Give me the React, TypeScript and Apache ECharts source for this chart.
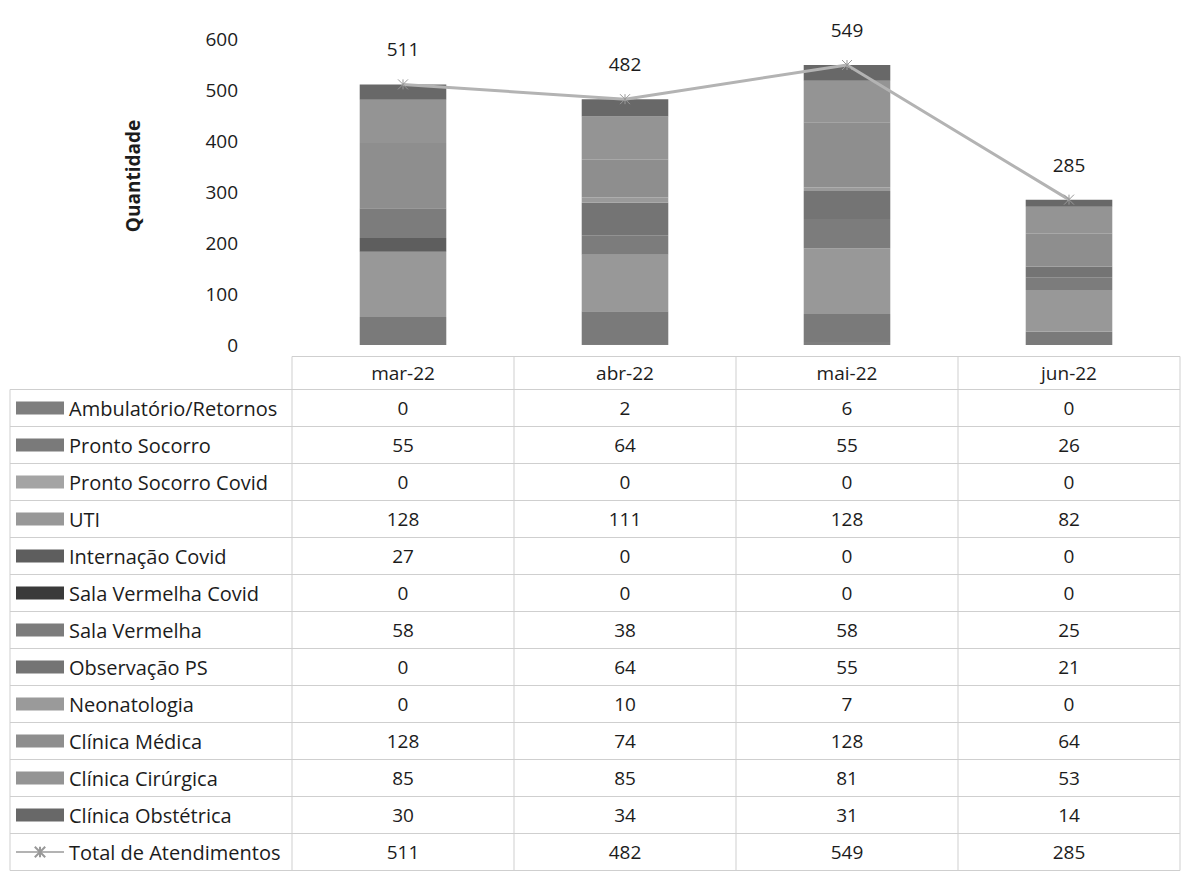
import React, { useEffect, useRef } from "react";
import * as echarts from "echarts";

const categories = ["mar-22", "abr-22", "mai-22", "jun-22"];
const seriesNames = [
  "Ambulatório/Retornos",
  "Pronto Socorro",
  "Pronto Socorro Covid",
  "UTI",
  "Internação Covid",
  "Sala Vermelha Covid",
  "Sala Vermelha",
  "Observação PS",
  "Neonatologia",
  "Clínica Médica",
  "Clínica Cirúrgica",
  "Clínica Obstétrica",
];
const ambulatorio = [0, 2, 6, 0];
const prontoSocorro = [55, 64, 55, 26];
const prontoSocorroCovid = [0, 0, 0, 0];
const uti = [128, 111, 128, 82];
const internacaoCovid = [27, 0, 0, 0];
const salaVermelhaCovid = [0, 0, 0, 0];
const salaVermelha = [58, 38, 58, 25];
const observacaoPS = [0, 64, 55, 21];
const neonatologia = [0, 10, 7, 0];
const clinicaMedica = [128, 74, 128, 64];
const clinicaCirurgica = [85, 85, 81, 53];
const clinicaObstetrica = [30, 34, 31, 14];
const totalName = "Total de Atendimentos";
const totalAtendimentos = [511, 482, 549, 285];
const yTicks = [0, 100, 200, 300, 400, 500, 600];

const seriesValues = [
  ambulatorio,
  prontoSocorro,
  prontoSocorroCovid,
  uti,
  internacaoCovid,
  salaVermelhaCovid,
  salaVermelha,
  observacaoPS,
  neonatologia,
  clinicaMedica,
  clinicaCirurgica,
  clinicaObstetrica,
];
const seriesColors = [
  "#7e7e7e",
  "#7a7a7a",
  "#a4a4a4",
  "#989898",
  "#5e5e5e",
  "#3a3a3a",
  "#7c7c7c",
  "#747474",
  "#9a9a9a",
  "#8e8e8e",
  "#949494",
  "#686868",
];

// layout
const W = 1188;
const H = 872;
const GRID_LEFT = 292;
const GRID_RIGHT_X = 1180;
const GRID_TOP = 39;
const GRID_BOTTOM_Y = 345;
const ROW0 = 408;
const ROW_H = 37.0;
const HEADER_Y = 373;
const FONT = "'Open Sans', 'Noto Sans', sans-serif";
const FS = 19;
const LEG_FS = 20;
const TXT = "#1c1c1c";
const BORDER = "#cfcfcf";

export default function App() {
  const ref = useRef<HTMLDivElement>(null);
  useEffect(() => {
    document.body.style.margin = "0";
    if (!ref.current) return;
    const chart = echarts.init(ref.current, null, { renderer: "svg" });

    const rowsData = [...seriesValues, totalAtendimentos];
    const baseAxis = {
      type: "category",
      data: categories,
      gridIndex: 0,
      position: "bottom",
      axisLine: { show: false },
      axisTick: { show: false },
      splitLine: { show: false },
    };
    const xAxes: any[] = [
      {
        ...baseAxis,
        offset: HEADER_Y - 10 - GRID_BOTTOM_Y,
        axisLabel: { margin: 0, fontSize: FS, color: TXT, fontFamily: FONT },
      },
    ];
    rowsData.forEach((vals, i) => {
      xAxes.push({
        ...baseAxis,
        offset: ROW0 + ROW_H * i - 10 - GRID_BOTTOM_Y,
        axisLabel: {
          margin: 0,
          fontSize: FS,
          color: TXT,
          fontFamily: FONT,
          formatter: (_v: string, idx: number) => String(vals[idx]),
        },
      });
    });

    const series: any[] = seriesNames.map((name, i) => ({
      name,
      type: "bar",
      stack: "total",
      xAxisIndex: 0,
      barWidth: "39%",
      data: seriesValues[i],
      itemStyle: { color: seriesColors[i] },
    }));
    series.push({
      name: totalName,
      type: "line",
      xAxisIndex: 0,
      data: totalAtendimentos,
      symbol: "path://M0,0L10,10M10,0L0,10M5,0L5,10",
      symbolSize: 10,
      itemStyle: { color: "#bdbdbd", borderColor: "#999999", borderWidth: 1 },
      lineStyle: { color: "#b3b3b3", width: 3 },
      label: {
        show: true,
        position: "top",
        distance: 20,
        fontSize: FS,
        color: TXT,
        fontFamily: FONT,
      },
      z: 5,
    });

    // table borders
    const graphics: any[] = [];
    const colBorders = [GRID_LEFT];
    const bandW = (GRID_RIGHT_X - GRID_LEFT) / categories.length;
    for (let c = 1; c <= categories.length; c++) colBorders.push(GRID_LEFT + bandW * c);
    const tableTop = ROW0 - ROW_H / 2;
    const tableBottom = ROW0 + ROW_H * (rowsData.length - 0.5);
    const headerTop = HEADER_Y - ROW_H / 2 + 2;
    graphics.push({
      type: "line",
      shape: { x1: GRID_LEFT, y1: headerTop, x2: GRID_RIGHT_X, y2: headerTop },
      style: { stroke: BORDER, lineWidth: 1 },
    });
    for (let r = 0; r <= rowsData.length; r++) {
      const y = tableTop + ROW_H * r;
      graphics.push({
        type: "line",
        shape: { x1: 10, y1: y, x2: GRID_RIGHT_X, y2: y },
        style: { stroke: BORDER, lineWidth: 1 },
      });
    }
    graphics.push({
      type: "line",
      shape: { x1: 10, y1: tableTop, x2: 10, y2: tableBottom },
      style: { stroke: BORDER, lineWidth: 1 },
    });
    colBorders.forEach((x) => {
      graphics.push({
        type: "line",
        shape: { x1: x, y1: headerTop, x2: x, y2: tableBottom },
        style: { stroke: BORDER, lineWidth: 1 },
      });
    });

    const legendData: any[] = seriesNames.map((n) => ({ name: n, icon: "rect" }));
    legendData.push({ name: totalName });

    chart.setOption({
      animation: false,
      backgroundColor: "#ffffff",
      textStyle: { fontFamily: FONT },
      grid: {
        left: GRID_LEFT,
        top: GRID_TOP,
        width: GRID_RIGHT_X - GRID_LEFT,
        height: GRID_BOTTOM_Y - GRID_TOP,
        containLabel: false,
      },
      legend: {
        orient: "vertical",
        left: 15,
        top: ROW0 - 12,
        padding: 0,
        itemGap: ROW_H - 24,
        itemWidth: 48,
        itemHeight: 13,
        data: legendData,
        textStyle: { fontSize: LEG_FS, color: TXT, fontFamily: FONT, lineHeight: 24 },
        selectedMode: false,
      },
      xAxis: xAxes,
      yAxis: {
        type: "value",
        min: yTicks[0],
        max: yTicks[yTicks.length - 1],
        interval: 100,
        axisLine: { show: false },
        axisTick: { show: false },
        splitLine: { show: false },
        axisLabel: { fontSize: FS, color: TXT, fontFamily: FONT, margin: 54 },
        name: "Quantidade",
        nameLocation: "middle",
        nameGap: 150,
        nameTextStyle: {
          fontSize: FS,
          fontWeight: "bold",
          color: TXT,
          fontFamily: FONT,
          padding: [0, 0, 0, 32],
        },
      },
      series,
      graphic: graphics,
    });
    return () => chart.dispose();
  }, []);
  return <div ref={ref} style={{ width: W, height: H }} />;
}
